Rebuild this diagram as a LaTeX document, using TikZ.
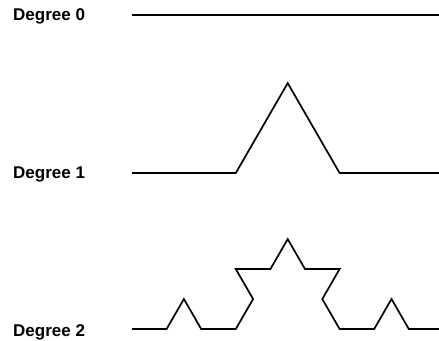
\documentclass[tikz,border=0pt]{standalone}
\usepackage{fontspec}
\setmainfont{Liberation Sans}
\begin{document}
\begin{tikzpicture}[x=1pt,y=1pt,
  lbl/.style={anchor=base west,inner sep=0pt,font=\bfseries\fontsize{17}{20}\selectfont},
  curve/.style={line width=1.7pt,line join=miter}]
\useasboundingbox (0,0) rectangle (439,340);
\def\s{34.6pt}
% labels
\node[lbl] (l0) at (13,319) {Degree 0};
\node[lbl] (l1) at (13,161) {Degree 1};
\node[lbl] (l2) at (13,4) {Degree 2};
% start points
\coordinate (s0) at (132,325);
\coordinate (s1) at (132,167);
\coordinate (s2) at (132,11);
% degree 0
\draw[curve] (s0) -- ++(0:9*\s);
% degree 1
\draw[curve] (s1) -- ++(0:3*\s) -- ++(60:3*\s) -- ++(-60:3*\s) -- ++(0:3*\s);
% degree 2
\draw[curve] (s2)
  -- ++(0:\s) -- ++(60:\s) -- ++(-60:\s) -- ++(0:\s)
  -- ++(60:\s) -- ++(120:\s) -- ++(0:\s) -- ++(60:\s)
  -- ++(-60:\s) -- ++(0:\s) -- ++(-120:\s) -- ++(-60:\s)
  -- ++(0:\s) -- ++(60:\s) -- ++(-60:\s) -- ++(0:\s);
\end{tikzpicture}
\end{document}
